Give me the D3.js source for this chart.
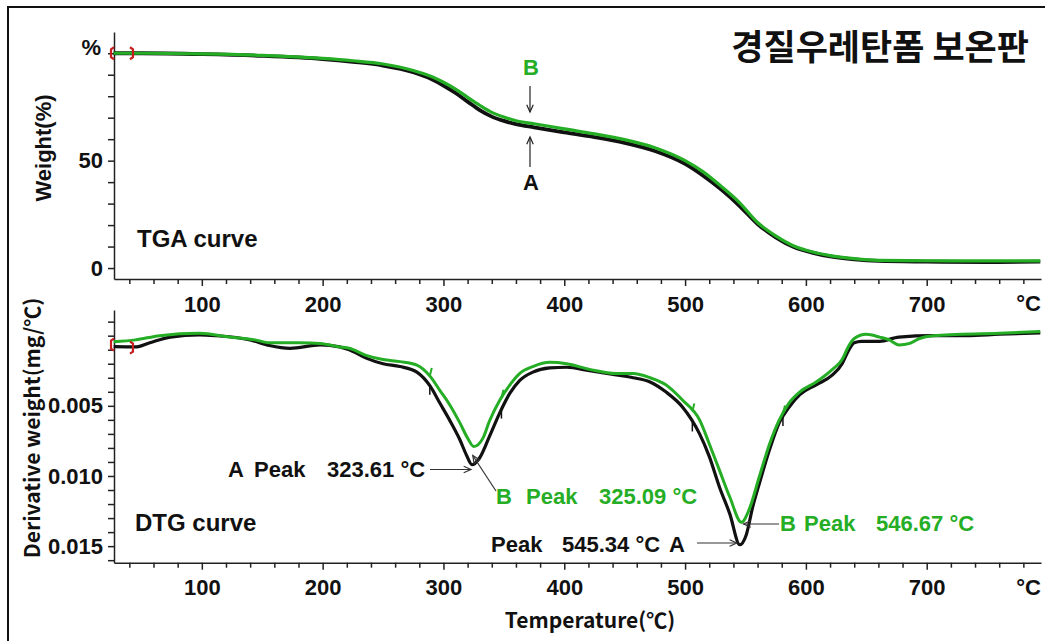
<!DOCTYPE html>
<html>
<head>
<meta charset="utf-8">
<script src="https://cdn.jsdelivr.net/npm/d3@7/dist/d3.min.js"></script>
<style>
  html, body { margin: 0; padding: 0; background: #fff; }
  svg { display: block; }
  .tick text { font-family: "Liberation Sans", Arial, sans-serif; font-weight: bold; font-size: 22px; fill: #111; }
  .lbl { font-family: "Liberation Sans", Arial, sans-serif; font-weight: bold; font-size: 22px; }
</style>
</head>
<body>
<svg id="chart" width="1045" height="641"></svg>
<script>
// ---- TGA: weight (%) vs temperature (°C) ----
const tgaTemp = [27, 50, 100, 150, 200, 225, 250, 275, 290, 300, 310, 320, 330, 340, 350, 360, 375, 400, 425, 450, 475, 500, 515, 530, 545, 560, 575, 590, 605, 620, 640, 660, 700, 750, 794];
const tgaA = [100, 100, 99.6, 98.8, 97.3, 96, 94.3, 91.2, 88, 85, 81.5, 77.5, 73.5, 70.5, 68.5, 67, 65.5, 63.2, 61, 58.3, 54.5, 48.5, 43, 36.5, 29, 20.5, 14.3, 9.8, 7.2, 5.4, 4, 3.3, 3, 2.8, 3];
const tgaB = [100, 100, 99.7, 99, 97.6, 96.5, 95, 92, 89.2, 86.5, 83.3, 79.5, 75.8, 72.5, 70.3, 68.6, 67.2, 64.8, 62.5, 59.8, 56, 50, 44.8, 38, 30.5, 21.2, 15, 10.3, 7.6, 5.8, 4.4, 3.6, 3.4, 3.3, 3.3];

// ---- DTG: derivative weight (mg/°C) vs temperature (°C) ----
const dtgTempA = [27, 45, 57, 74, 98, 111, 140, 156, 173, 198, 214, 222, 236, 250, 264, 278, 289, 297, 305, 313.5, 319, 323.61, 330, 338, 346.6, 355, 363, 374, 388, 402, 421, 443, 457, 471, 484, 498, 512, 520, 528.5, 537, 545.34, 550.6, 556, 561.6, 570, 578, 586, 595, 608.5, 622, 630, 635, 640, 646, 661, 677, 705, 733, 760, 794];
const dtgA = [0.00078, 0.0008, 0.0005, 0.0001, -0.00005, 0, 0.0003, 0.0007, 0.0009, 0.00066, 0.0008, 0.001, 0.0016, 0.002, 0.0022, 0.0026, 0.0036, 0.0048, 0.006, 0.0074, 0.0085, 0.0092, 0.0087, 0.0072, 0.0055, 0.0041, 0.0032, 0.0026, 0.0023, 0.00225, 0.0025, 0.0028, 0.003, 0.0033, 0.004, 0.0051, 0.007, 0.0086, 0.0108, 0.0127, 0.0149, 0.0142, 0.0122, 0.0105, 0.0081, 0.0062, 0.0051, 0.0042, 0.0035, 0.0028, 0.002, 0.0011, 0.0005, 0.0004, 0.0004, 0.0001, 0, 0, -0.0001, -0.0002];
const dtgTempB = [27, 45, 65, 98, 123, 144, 156, 181, 198, 214, 222, 236, 250, 264, 278, 289, 297, 305, 313.5, 320, 325.09, 332.7, 338, 346.6, 355, 363, 374, 388, 402, 421, 443, 457, 471, 484, 498, 512, 520, 528.5, 537, 546.67, 553, 561.6, 570, 578, 586, 595, 608.5, 622, 630, 635, 640, 650, 661, 669, 677, 686, 694, 705, 760, 794];
const dtgB = [0.00043, 0.0003, 0, -0.00017, 0.0001, 0.0003, 0.0005, 0.0005, 0.00055, 0.0008, 0.0009, 0.0014, 0.0017, 0.00185, 0.0021, 0.0029, 0.0039, 0.0049, 0.0062, 0.0073, 0.0079, 0.0073, 0.0061, 0.0046, 0.0035, 0.0027, 0.0022, 0.0019, 0.002, 0.0024, 0.0027, 0.0027, 0.003, 0.0035, 0.0046, 0.006, 0.0077, 0.0096, 0.0115, 0.0133, 0.0124, 0.01, 0.0077, 0.006, 0.0048, 0.004, 0.0033, 0.0024, 0.0017, 0.0008, 0.0002, -0.0001, 0.0001, 0.0003, 0.00066, 0.00055, 0.0002, 0, -0.00017, -0.0003];

// Peak annotations
const peakLabels = ["323.61 °C", "325.09 °C", "545.34 °C", "546.67 °C"];
// Onset marks on the DTG traces (°C)
const onsetTemps = [288.7, 348, 506, 581];

// Axis ticks
const majorTemps = [100, 200, 300, 400, 500, 600, 700];
const minorTemps = d3.range(40, 800, 20);
const tgaTicks = d3.range(0, 101, 10);
const tgaLabels = { 0: "0", 50: "50" };
const dtgTicks = d3.range(-1, 17).map(d => d / 1000);
const dtgLabels = { 5: "0.005", 10: "0.010", 15: "0.015" };

const GREEN = "#25ae25";
const BLACK = "#111";

const svg = d3.select("#chart");

// outer frame
svg.append("rect").attr("x", 8).attr("y", 7).attr("width", 1060).attr("height", 660)
  .attr("fill", "none").attr("stroke", "#111").attr("stroke-width", 2);

const x = d3.scaleLinear().domain([27.3, 794.6]).range([114, 1041]);
const yT = d3.scaleLinear().domain([-5.1, 109.9]).range([279, 32]);
const yD = d3.scaleLinear().domain([-0.00183, 0.01618]).range([310, 562.7]);

function xAxis(g, yPos) {
  g.attr("transform", `translate(0,${yPos})`);
  g.append("g").call(d3.axisBottom(x).tickValues(minorTemps.filter(t => t % 100 !== 0)).tickSize(5).tickFormat(""))
    .call(s => s.select(".domain").remove());
  g.append("g").call(d3.axisBottom(x).tickValues(majorTemps).tickSize(7).tickPadding(10).tickSizeOuter(0));
  g.selectAll("line, path").attr("stroke", "#222").attr("stroke-width", 1.5);
  g.append("text").attr("x", 1041).attr("y", 32).attr("text-anchor", "end")
    .attr("class", "lbl").attr("fill", "#111").text("°C");
}

// ---------- TGA panel ----------
const tgaG = svg.append("g");
tgaG.append("g").call(g => xAxis(g, 279));
const yAxT = tgaG.append("g").attr("transform", "translate(114,0)")
  .call(d3.axisLeft(yT).tickValues(tgaTicks).tickSize(6).tickPadding(5).tickSizeOuter(0)
    .tickFormat(d => tgaLabels[d] || ""));
yAxT.selectAll("line, path").attr("stroke", "#222").attr("stroke-width", 1.5);
tgaG.append("text").attr("class", "lbl").attr("x", 101).attr("y", yT(100) + 2)
  .attr("text-anchor", "end").attr("fill", "#111").text("%");

const lineT = (arr) => d3.line().x((d, i) => x(tgaTemp[i])).y(d => yT(d)).curve(d3.curveMonotoneX)(arr);
tgaG.append("path").attr("d", lineT(tgaA)).attr("fill", "none").attr("stroke", BLACK).attr("stroke-width", 3.8);
tgaG.append("path").attr("d", lineT(tgaB)).attr("fill", "none").attr("stroke", GREEN).attr("stroke-width", 3.2);

tgaG.append("text").attr("class", "lbl").attr("x", 137).attr("y", 247).style("font-size", "24px")
  .attr("fill", "#111").text("TGA curve");

// ---------- DTG panel ----------
const dtgG = svg.append("g");
dtgG.append("g").call(g => xAxis(g, 562.7));
const yAxD = dtgG.append("g").attr("transform", "translate(114,0)")
  .call(d3.axisLeft(yD).tickValues(dtgTicks).tickSize(6).tickPadding(5).tickSizeOuter(0)
    .tickFormat(d => dtgLabels[Math.round(d * 1000)] || ""));
yAxD.selectAll("line, path").attr("stroke", "#222").attr("stroke-width", 1.5);

const lineD = (temps, vals) => d3.line().x((d, i) => x(temps[i])).y(d => yD(d)).curve(d3.curveMonotoneX)(vals);
dtgG.append("path").attr("d", lineD(dtgTempA, dtgA)).attr("fill", "none").attr("stroke", BLACK).attr("stroke-width", 3.2);
dtgG.append("path").attr("d", lineD(dtgTempB, dtgB)).attr("fill", "none").attr("stroke", GREEN).attr("stroke-width", 3);

// onset marks
const interp = (temps, vals, t) => {
  const i = d3.bisectLeft(temps, t);
  const t0 = temps[i - 1], t1 = temps[i];
  return vals[i - 1] + (vals[i] - vals[i - 1]) * (t - t0) / (t1 - t0);
};
onsetTemps.forEach(t => {
  const xb = x(t);
  dtgG.append("line").attr("x1", xb).attr("x2", xb)
    .attr("y1", yD(interp(dtgTempA, dtgA, t))).attr("y2", yD(interp(dtgTempA, dtgA, t)) + 9)
    .attr("stroke", BLACK).attr("stroke-width", 1.5);
  dtgG.append("line").attr("x1", xb).attr("x2", xb + 2)
    .attr("y1", yD(interp(dtgTempB, dtgB, t))).attr("y2", yD(interp(dtgTempB, dtgB, t)) - 8)
    .attr("stroke", GREEN).attr("stroke-width", 2);
});

dtgG.append("text").attr("class", "lbl").attr("x", 135).attr("y", 531).style("font-size", "24px")
  .attr("fill", "#111").text("DTG curve");

// start-of-range brackets
function bracket(g, x0, yc, dir) {
  const h = 6;
  g.append("path")
    .attr("d", `M${x0 + dir * 3},${yc - h} L${x0},${yc - h + 2} L${x0},${yc + h - 2} L${x0 + dir * 3},${yc + h}`)
    .attr("fill", "none").attr("stroke", "#c81e1e").attr("stroke-width", 2.2);
}
bracket(tgaG, x(27.3) - 3, yT(tgaA[0]), 1);
bracket(tgaG, x(43), yT(tgaA[0]), -1);
bracket(dtgG, x(27.3) - 3, yD(dtgA[0]) - 2, 1);
bracket(dtgG, x(43), yD(dtgA[0]) + 1, -1);

// ---------- annotations ----------
function arrow(g, x1, y1, x2, y2, col, hollow) {
  g.append("line").attr("x1", x1).attr("y1", y1).attr("x2", x2).attr("y2", y2)
    .attr("stroke", col).attr("stroke-width", 1.2);
  const a = Math.atan2(y2 - y1, x2 - x1), L = 8, w = 0.42;
  const p1 = [x2 - L * Math.cos(a - w), y2 - L * Math.sin(a - w)];
  const p2 = [x2 - L * Math.cos(a + w), y2 - L * Math.sin(a + w)];
  g.append("path").attr("d", `M${p1}L${x2},${y2}L${p2}` + (hollow ? "Z" : ""))
    .attr("fill", "none").attr("stroke", col).attr("stroke-width", 1.2);
}

// TGA curve labels
svg.append("text").attr("class", "lbl").attr("x", 531).attr("y", 75).attr("text-anchor", "middle")
  .attr("fill", GREEN).text("B");
arrow(svg, 530, 86, 530, 112, "#222", false);
svg.append("text").attr("class", "lbl").attr("x", 531).attr("y", 190).attr("text-anchor", "middle")
  .attr("fill", "#111").text("A");
arrow(svg, 530, 167, 530, 137, "#222", false);

// DTG peak labels
function peakText(parts, col) {
  parts.forEach(p => svg.append("text").attr("class", "lbl").attr("x", p[0]).attr("y", p[1])
    .attr("fill", col).text(p[2]));
}
peakText([[228, 477, "A"], [254, 477, "Peak"], [327, 477, peakLabels[0]]], "#111");
arrow(svg, 430, 469.5, x(323.61) - 1, 469.5, "#333", false);

peakText([[496, 504, "B"], [526, 504, "Peak"], [599, 504, peakLabels[1]]], GREEN);
arrow(svg, 496, 491, x(325.09) - 1, yD(0.0079) + 9, "#333", true);

peakText([[491, 552, "Peak"], [562, 552, peakLabels[2]], [669, 552, "A"]], "#111");
arrow(svg, 697, 543, x(545.34) - 3, 543, "#333", false);

peakText([[780, 531, "B"], [804, 531, "Peak"], [876, 531, peakLabels[3]]], GREEN);
arrow(svg, 779, 524, x(546.67) + 2, 524, "#333", false);

// ---------- titles ----------
svg.append("text").attr("x", 1029).attr("y", 60).attr("text-anchor", "end")
  .style("font-family", '"Noto Sans CJK KR", sans-serif').style("font-weight", "bold")
  .style("font-size", "35px").attr("fill", "#111").text("경질우레탄폼 보온판");

svg.append("text").attr("transform", "translate(51,148) rotate(-90)").attr("text-anchor", "middle")
  .style("font-family", '"Liberation Sans", Arial, sans-serif').style("font-weight", "bold")
  .style("font-size", "22px").attr("fill", "#111").text("Weight(%)");

svg.append("text").attr("transform", "translate(40,428) rotate(-90)").attr("text-anchor", "middle")
  .style("font-family", '"Noto Sans CJK KR", sans-serif').style("font-weight", "bold")
  .style("font-size", "21px").attr("fill", "#111").text("Derivative weight(mg/℃)");

svg.append("text").attr("x", 590).attr("y", 628).attr("text-anchor", "middle")
  .style("font-family", '"Noto Sans CJK KR", sans-serif').style("font-weight", "bold")
  .style("font-size", "21px").attr("fill", "#111").text("Temperature(℃)");
</script>
</body>
</html>
